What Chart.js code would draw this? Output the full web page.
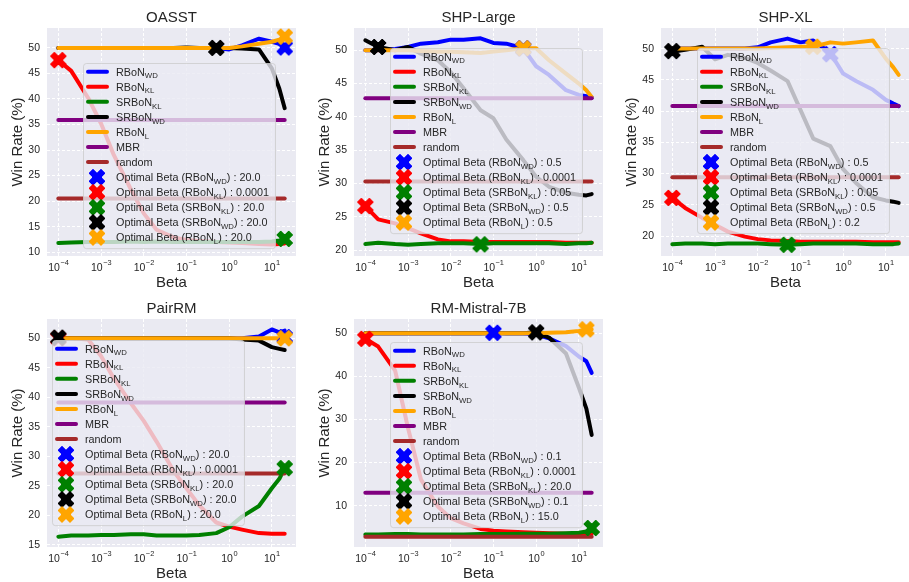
<!DOCTYPE html>
<html>
<head>
<meta charset="utf-8">
<script src="https://cdn.jsdelivr.net/npm/chart.js@4.4.1/dist/chart.umd.min.js"></script>
<style>
  html, body { margin: 0; padding: 0; background: #fff; overflow: hidden; }
  #fig { position: relative; width: 909px; height: 582px; overflow: hidden; }
  #fig canvas { position: absolute; }
</style>
</head>
<body>
<div id="fig"></div>
<script>
// ---- data ----
const betas = [1e-4, 2e-4, 5e-4, 1e-3, 2e-3, 5e-3, 0.01, 0.02, 0.05, 0.1, 0.2, 0.5, 1, 2, 5, 10, 15, 20];
const xTicks = [1e-4, 1e-3, 1e-2, 1e-1, 1, 10];

const seriesNames = ['RBoN_{WD}', 'RBoN_{KL}', 'SRBoN_{KL}', 'SRBoN_{WD}', 'RBoN_{L}', 'MBR', 'random'];
const seriesColors = ['#0000ff', '#ff0000', '#008000', '#000000', '#ffa500', '#800080', '#a52a2a'];

// OASST
const oasstWD   = [50, 50, 50, 50, 50, 50, 50, 50, 50, 50, 50, 50, 49.7, 50.5, 51.8, 51.2, 50.8, 50.3];
const oasstKL   = [47.6, 45.5, 40.2, 35.2, 29, 22.3, 17.6, 14.4, 12.9, 12.4, 12.2, 12.0, 11.9, 11.8, 11.6, 11.5, 11.6, 11.7];
const oasstSrKL = [11.8, 11.9, 12.0, 12.0, 12.0, 12.1, 12.0, 12.1, 12.0, 12.0, 12.0, 12.0, 12.0, 12.0, 12.0, 12.1, 12.3, 12.6];
const oasstSrWD = [50, 50, 50, 50, 50, 50, 50, 50, 50, 50.1, 50, 50, 50, 49.9, 49.7, 46, 42, 38.2];
const oasstL    = [50, 50, 50, 50, 50, 50, 50, 50, 50, 50, 50, 50, 50, 50.3, 50.8, 51.2, 51.6, 52.2];
const oasstMBR = 35.9, oasstRandom = 20.5;
const oasstOptX = [20, 1e-4, 20, 0.5, 20];
const oasstOptY = [50.1, 47.6, 12.6, 50.0, 52.2];
const oasstOptText = ['20.0', '0.0001', '20.0', '20.0', '20.0'];
const oasstYTicks = [10, 15, 20, 25, 30, 35, 40, 45, 50];

// SHP-Large
const shpLWD   = [50, 50, 50.2, 50.5, 51, 51.2, 51.6, 51.6, 51.8, 51.1, 51, 50.3, 47.6, 46.3, 44, 43.3, 43.1, 42.9];
const shpLKL   = [26.6, 24.6, 24, 23.3, 22.5, 21.6, 21.3, 21.3, 21.2, 21.2, 21.2, 21.2, 21.2, 21.2, 21.1, 21.1, 21.1, 21.1];
const shpLSrKL = [20.9, 21.1, 20.9, 20.8, 20.9, 21.0, 21.0, 21.0, 20.9, 21.0, 21.0, 21.0, 21.0, 21.0, 20.9, 21.0, 21.0, 21.1];
const shpLSrWD = [51.5, 50.5, 50, 50.5, 49.5, 48.5, 46.7, 44.3, 41, 39.8, 36.6, 33.5, 31, 29.5, 28.6, 28.3, 28.2, 28.4];
const shpLL    = [50, 50, 50, 50, 49.9, 49.8, 49.8, 49.7, 49.6, 49.8, 50, 50.3, 50.3, 48.5, 46.5, 45, 44, 43];
const shpLMBR = 42.8, shpLRandom = 30.3;
const shpLOptX = [0.5, 1e-4, 0.05, 2e-4, 0.5];
const shpLOptY = [50.3, 26.6, 20.85, 50.5, 50.3];
const shpLOptText = ['0.5', '0.0001', '0.05', '0.5', '0.5'];
const shpLYTicks = [20, 25, 30, 35, 40, 45, 50];

// SHP-XL
const shpXWD   = [50, 50, 50, 50, 50, 50, 50.2, 51, 51.6, 51.0, 51.3, 49.3, 46, 44.8, 43.4, 41.8, 41.2, 40.8];
const shpXKL   = [26.1, 24.5, 22.9, 21.8, 20.7, 19.9, 19.5, 19.3, 19.2, 19.1, 19.1, 19.1, 19.1, 19.1, 19.0, 19.0, 19.0, 19.0];
const shpXSrKL = [18.7, 18.8, 18.8, 18.7, 18.8, 18.8, 18.8, 18.7, 18.6, 18.7, 18.8, 18.8, 18.8, 18.8, 18.7, 18.7, 18.7, 18.8];
const shpXSrWD = [49.5, 49.8, 50.3, 48.3, 49, 48.5, 47.7, 46.5, 44.8, 40.2, 35.6, 34.4, 30.7, 28.5, 26.2, 25.7, 25.5, 25.3];
const shpXL    = [50, 50, 50, 50, 50, 50, 50, 50.1, 50.2, 50.3, 50.3, 51.0, 50.8, 51, 51.3, 48.4, 47, 45.8];
const shpXMBR = 40.8, shpXRandom = 29.4;
const shpXOptX = [0.5, 1e-4, 0.05, 1e-4, 0.2];
const shpXOptY = [49.1, 26.1, 18.6, 49.6, 50.3];
const shpXOptText = ['0.5', '0.0001', '0.05', '0.5', '0.2'];
const shpXYTicks = [20, 25, 30, 35, 40, 45, 50];

// PairRM
const pairWD   = [50, 50, 50, 50, 50, 50, 50, 50, 50, 50, 50, 50, 50, 50, 50.3, 51.5, 51, 51.3];
const pairKL   = [50, 50, 49.8, 47, 43.2, 39, 36, 32.5, 27.5, 24.6, 21.7, 18.8, 18.1, 17.6, 17, 16.9, 16.9, 16.9];
const pairSrKL = [16.4, 16.6, 16.6, 16.7, 16.7, 16.8, 16.8, 16.6, 16.6, 16.6, 16.7, 17.0, 18.0, 19.8, 21.6, 24.6, 26.2, 28.0];
const pairSrWD = [50, 50, 50, 50, 50, 50, 50, 50, 50, 50, 50, 50, 50, 49.8, 49.6, 48.5, 48.2, 48];
const pairL    = [50, 50, 50, 50, 50, 50, 50, 50, 50, 50, 50, 50, 50, 50, 50, 50, 50, 50.1];
const pairMBR = 39.1, pairRandom = 27.1;
const pairOptX = [20, 1e-4, 20, 1e-4, 20];
const pairOptY = [50.2, 50, 28, 50.1, 50];
const pairOptText = ['20.0', '0.0001', '20.0', '20.0', '20.0'];
const pairYTicks = [15, 20, 25, 30, 35, 40, 45, 50];

// RM-Mistral-7B
const mistWD   = [50, 50, 50, 50, 50, 50, 50, 50, 50, 50.1, 50, 50, 49.7, 48.8, 47, 44.6, 43.5, 40.8];
const mistKL   = [48.7, 46.9, 41.3, 28, 16.1, 9.8, 7.1, 5.9, 4.6, 4.2, 4, 3.8, 3.7, 3.6, 3.5, 3.5, 3.5, 3.5];
const mistSrKL = [3.3, 3.3, 3.4, 3.4, 3.3, 3.3, 3.3, 3.3, 3.4, 3.4, 3.4, 3.5, 3.5, 3.5, 3.6, 3.7, 4.0, 4.8];
const mistSrWD = [50, 50, 50, 50, 50, 50, 50, 50, 50, 50, 50, 50, 50.2, 49, 45.3, 37.4, 32.5, 26.4];
const mistL    = [50, 50, 50, 50, 50, 50, 50, 50, 50, 50, 50, 50, 50, 50.1, 50.2, 50.5, 50.8, 50.9];
const mistMBR = 13, mistRandom = 2.8;
const mistOptX = [0.1, 1e-4, 20, 1, 15];
const mistOptY = [50.1, 48.7, 4.8, 50.2, 50.9];
const mistOptText = ['0.1', '0.0001', '20.0', '0.1', '15.0'];
const mistYTicks = [10, 20, 30, 40, 50];

// ---- layout / style ----
const FONT = '"Liberation Sans", Arial, sans-serif';
const INK = '#262626';
const X_MIN = 5.43e-5, X_MAX = 36.8;
const colLeft = [47, 354, 661];
const rowTop = [28, 319];
const AREA_W = 257, AXIS_W = 48, TITLE_H = 28, XAXIS_H = 35, AREA_H = 228;

Chart.defaults.font.family = FONT;

const panels = [
  { title: 'OASST', col: 0, row: 0, series: [oasstWD, oasstKL, oasstSrKL, oasstSrWD, oasstL],
    mbr: oasstMBR, random: oasstRandom, optX: oasstOptX, optY: oasstOptY, optText: oasstOptText,
    yMin: 9.25, yMax: 53.9, yTicks: oasstYTicks, legend: { dx: 36, dy: 35 } },
  { title: 'SHP-Large', col: 1, row: 0, series: [shpLWD, shpLKL, shpLSrKL, shpLSrWD, shpLL],
    mbr: shpLMBR, random: shpLRandom, optX: shpLOptX, optY: shpLOptY, optText: shpLOptText,
    yMin: 19.1, yMax: 53.35, yTicks: shpLYTicks, legend: { dx: 36, dy: 20 } },
  { title: 'SHP-XL', col: 2, row: 0, series: [shpXWD, shpXKL, shpXSrKL, shpXSrWD, shpXL],
    mbr: shpXMBR, random: shpXRandom, optX: shpXOptX, optY: shpXOptY, optText: shpXOptText,
    yMin: 16.8, yMax: 53.3, yTicks: shpXYTicks, legend: { dx: 36, dy: 20 } },
  { title: 'PairRM', col: 0, row: 1, series: [pairWD, pairKL, pairSrKL, pairSrWD, pairL],
    mbr: pairMBR, random: pairRandom, optX: pairOptX, optY: pairOptY, optText: pairOptText,
    yMin: 14.65, yMax: 53.26, yTicks: pairYTicks, legend: { dx: 5, dy: 21 } },
  { title: 'RM-Mistral-7B', col: 1, row: 1, series: [mistWD, mistKL, mistSrKL, mistSrWD, mistL],
    mbr: mistMBR, random: mistRandom, optX: mistOptX, optY: mistOptY, optText: mistOptText,
    yMin: 0.4, yMax: 53.3, yTicks: mistYTicks, legend: { dx: 36, dy: 23 } }
];

// filled "X" marker like matplotlib's 'X'
const markerCache = {};
function xMarker(color) {
  if (markerCache[color]) return markerCache[color];
  const s = 16;
  const c = document.createElement('canvas');
  c.width = c.height = s + 2;
  const g = c.getContext('2d');
  const pts = [[-0.25, -0.5], [0, -0.25], [0.25, -0.5], [0.5, -0.25], [0.25, 0], [0.5, 0.25],
               [0.25, 0.5], [0, 0.25], [-0.25, 0.5], [-0.5, 0.25], [-0.25, 0], [-0.5, -0.25]];
  g.translate(c.width / 2, c.height / 2);
  g.beginPath();
  pts.forEach(([px, py], i) => i ? g.lineTo(px * s, py * s) : g.moveTo(px * s, py * s));
  g.closePath();
  g.fillStyle = color;
  g.fill();
  g.lineWidth = 1;
  g.lineJoin = 'round';
  g.strokeStyle = color;
  g.stroke();
  markerCache[color] = c;
  return c;
}

// text with _{sub} parts
function richText(ctx, label, x, y, draw) {
  const parts = label.split(/_\{([^}]*)\}/);
  let w = 0;
  parts.forEach((t, k) => {
    if (!t) return;
    const sub = k % 2 === 1;
    ctx.font = (sub ? '7.8px ' : '10.8px ') + FONT;
    if (draw) ctx.fillText(t, x + w, y + (sub ? 2.8 : 0));
    w += ctx.measureText(t).width;
  });
  return w;
}

const plotBg = {
  id: 'plotBg',
  beforeDraw(chart) {
    const { ctx, chartArea: a } = chart;
    ctx.save();
    ctx.fillStyle = '#EAEAF2';
    ctx.fillRect(a.left, a.top, a.width, a.height);
    ctx.restore();
  }
};

// 10^n labels with a raised exponent, placed by the x scale
const powTicks = {
  id: 'powTicks',
  afterDraw(chart) {
    const { ctx, chartArea: a } = chart;
    const xs = chart.scales.x;
    ctx.save();
    ctx.fillStyle = INK;
    ctx.textBaseline = 'alphabetic';
    xs.ticks.forEach(t => {
      const exp = String(Math.round(Math.log10(t.value))).replace('-', '\u2212');
      ctx.font = '10.5px ' + FONT;
      const wb = ctx.measureText('10').width;
      ctx.font = '7.4px ' + FONT;
      const we = ctx.measureText(exp).width;
      const x0 = xs.getPixelForValue(t.value) - (wb + we) / 2;
      ctx.font = '10.5px ' + FONT;
      ctx.fillText('10', x0, a.bottom + 15);
      ctx.font = '7.4px ' + FONT;
      ctx.fillText(exp, x0 + wb + 0.5, a.bottom + 9);
    });
    ctx.restore();
  }
};

// legend box drawn inside the axes, over the lines
const legendBox = {
  id: 'legendBox',
  afterDatasetsDraw(chart, args, opts) {
    const { ctx, chartArea: a } = chart;
    const sets = chart.data.datasets;
    const L = a.left + opts.dx, T = a.top + opts.dy;
    const pitch = 15.07, first = 8.7;
    ctx.save();
    const widths = sets.map(d => richText(ctx, d.label, 0, 0, false));
    const W = 33 + Math.max(...widths) + 6;
    const H = first + (sets.length - 1) * pitch + 10.7;
    ctx.beginPath();
    ctx.roundRect(L + 0.5, T + 0.5, W, H, 3);
    ctx.fillStyle = 'rgba(234,234,242,0.8)';
    ctx.fill();
    ctx.lineWidth = 1;
    ctx.strokeStyle = 'rgba(204,204,204,0.8)';
    ctx.stroke();
    sets.forEach((d, i) => {
      const cy = T + first + i * pitch;
      if (d.showLine === false) {
        const img = d.pointStyle;
        ctx.drawImage(img, L + 14 - img.width / 2, cy - img.height / 2);
      } else {
        ctx.beginPath();
        ctx.moveTo(L + 5, cy);
        ctx.lineTo(L + 24, cy);
        ctx.lineWidth = 4;
        ctx.lineCap = 'round';
        ctx.strokeStyle = d.borderColor;
        ctx.stroke();
      }
      ctx.fillStyle = INK;
      ctx.textBaseline = 'alphabetic';
      richText(ctx, d.label, L + 33, cy + 3.9, true);
    });
    ctx.restore();
  }
};

function buildPanel(p) {
  const canvas = document.createElement('canvas');
  canvas.width = AXIS_W + AREA_W + 1;
  canvas.height = TITLE_H + AREA_H + XAXIS_H;
  canvas.style.left = (colLeft[p.col] - AXIS_W) + 'px';
  canvas.style.top = (rowTop[p.row] - TITLE_H) + 'px';
  document.getElementById('fig').appendChild(canvas);

  const lineStyle = color => ({
    borderColor: color, backgroundColor: color, borderWidth: 4,
    pointRadius: 0, tension: 0, borderJoinStyle: 'round', borderCapStyle: 'round'
  });
  const datasets = [];
  p.series.forEach((vals, i) => datasets.push({
    label: seriesNames[i], data: betas.map((b, j) => ({ x: b, y: vals[j] })), ...lineStyle(seriesColors[i])
  }));
  [p.mbr, p.random].forEach((v, k) => datasets.push({
    label: seriesNames[5 + k],
    data: [{ x: betas[0], y: v }, { x: betas[betas.length - 1], y: v }],
    ...lineStyle(seriesColors[5 + k])
  }));
  p.optX.forEach((x, i) => datasets.push({
    label: 'Optimal Beta (' + seriesNames[i] + ') : ' + p.optText[i],
    data: [{ x: x, y: p.optY[i] }],
    showLine: false, pointStyle: xMarker(seriesColors[i]), pointRadius: 8,
    borderColor: seriesColors[i], backgroundColor: seriesColors[i]
  }));
  // later datasets on top, like matplotlib
  datasets.forEach((d, i) => { d.order = datasets.length - i; });

  const tickFont = { size: 10.5, family: FONT };
  const labelFont = { size: 15, family: FONT };
  new Chart(canvas, {
    type: 'line',
    data: { datasets },
    plugins: [plotBg, legendBox, powTicks],
    options: {
      responsive: false, animation: false, events: [],
      layout: { padding: 0 },
      plugins: {
        legend: { display: false },
        tooltip: { enabled: false },
        title: { display: true, text: p.title, fullSize: false, color: INK,
                 font: { size: 15, weight: 'normal', family: FONT }, padding: { top: 9, bottom: 1 } },
        legendBox: p.legend
      },
      scales: {
        x: {
          type: 'logarithmic', min: X_MIN, max: X_MAX,
          afterBuildTicks: ax => { ax.ticks = xTicks.map(v => ({ value: v })); },
          afterFit: ax => { ax.height = XAXIS_H; },
          ticks: { display: false, autoSkip: false },
          grid: { color: '#ffffff', lineWidth: 1, drawTicks: false },
          border: { display: false, dash: [3, 2] },
          title: { display: true, text: 'Beta', color: INK, font: labelFont, padding: { top: 0, bottom: -1 } }
        },
        y: {
          type: 'linear', min: p.yMin, max: p.yMax,
          afterBuildTicks: ax => { ax.ticks = p.yTicks.map(v => ({ value: v })); },
          afterFit: ax => { ax.width = AXIS_W; },
          ticks: { font: tickFont, color: INK, padding: 7 },
          grid: { color: '#ffffff', lineWidth: 1, drawTicks: false },
          border: { display: false, dash: [3, 2] },
          title: { display: true, text: 'Win Rate (%)', color: INK, font: labelFont, padding: { top: 10, bottom: 0 } }
        }
      }
    }
  });
}

panels.forEach(buildPanel);
</script>
</body>
</html>
